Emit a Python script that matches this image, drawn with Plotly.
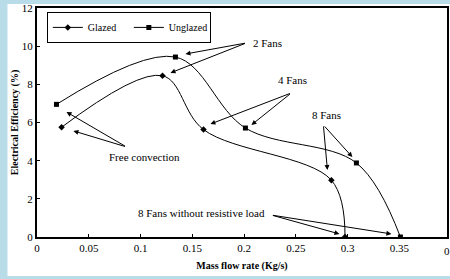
import plotly.graph_objects as go

# ---- data ----
glazed_x = [0.0237, 0.1212, 0.1608, 0.2843, 0.2975]
glazed_y = [5.75, 8.45, 5.63, 2.98, 0.0]
unglazed_x = [0.0188, 0.1337, 0.2013, 0.3085, 0.3510]
unglazed_y = [6.95, 9.43, 5.71, 3.88, 0.0]

x_ticks = [0, 0.05, 0.1, 0.15, 0.2, 0.25, 0.3, 0.35]
x_tick_text = ["0", "0.05", "0.1", "0.15", "0.2", "0.25", "0.3", "0.35"]
y_ticks = [0, 2, 4, 6, 8, 10, 12]
X_MAX = 0.396
Y_MAX = 12

# labels: (text, text_x, text_y, tail_x, tail_y, [tips])
labels = [
    ("2 Fans", 0.2226, 10.17, 0.2023, 10.17, [(0.1434, 9.59), (0.1289, 8.60)]),
    ("4 Fans", 0.2467, 8.23, 0.2457, 7.55, [(0.2071, 5.87), (0.1675, 5.92)]),
    ("8 Fans", 0.2795, 6.39, 0.2766, 5.87, [(0.3046, 4.19), (0.2805, 3.51)]),
    ("Free convection", 0.1038, 4.19, 0.0864, 4.72, [(0.0285, 6.55), (0.0352, 5.56)]),
    ("8 Fans without resistive load", 0.1588, 1.26, 0.2264, 1.15, [(0.2921, 0.16), (0.3423, 0.16)]),
]

FONT = "Liberation Serif, Times New Roman, serif"

fig = go.Figure()
fig.add_trace(go.Scatter(
    x=glazed_x, y=glazed_y, name="Glazed", mode="lines+markers",
    line=dict(color="black", width=1, shape="spline", smoothing=1.0),
    marker=dict(symbol="diamond", size=5, color="black"),
))
fig.add_trace(go.Scatter(
    x=unglazed_x, y=unglazed_y, name="Unglazed", mode="lines+markers",
    line=dict(color="black", width=1, shape="spline", smoothing=1.0),
    marker=dict(symbol="square", size=5, color="black"),
))

annotations = []
for text, tx, ty, ax, ay, tips in labels:
    annotations.append(dict(x=tx, y=ty, xref="x", yref="y", text=text, showarrow=False,
                            font=dict(family=FONT, size=11, color="black")))
    for (px, py) in tips:
        annotations.append(dict(x=px, y=py, xref="x", yref="y", ax=ax, ay=ay,
                                axref="x", ayref="y", text="", showarrow=True,
                                arrowhead=2, arrowsize=1, arrowwidth=1,
                                arrowcolor="black", standoff=0))
# clipped last tick label at right edge
annotations.append(dict(x=0.4 / X_MAX, y=0, xref="paper", yref="paper", text="0.4",
                        showarrow=False, xanchor="center", yanchor="top", yshift=-6,
                        font=dict(family=FONT, size=11, color="black")))

fig.update_layout(
    width=450, height=279,
    margin=dict(l=37, r=3, t=8, b=42, autoexpand=False),
    paper_bgcolor="#b8dde8",
    plot_bgcolor="white",
    font=dict(family=FONT, size=11, color="black"),
    showlegend=True,
    legend=dict(x=0.024, y=0.983, xanchor="left", yanchor="top", orientation="h",
                bordercolor="black", borderwidth=1, bgcolor="white",
                font=dict(family=FONT, size=10, color="black"),
                itemwidth=30, entrywidth=36, entrywidthmode="pixels", tracegroupgap=0),
    annotations=annotations,
    shapes=[dict(type="rect", xref="paper", yref="paper", x0=-0.072, x1=1.05,
                 y0=-0.17, y1=1.0175, fillcolor="white", line=dict(width=0),
                 layer="below")],
)
fig.update_xaxes(range=[0, X_MAX], tickvals=x_ticks, ticktext=x_tick_text,
                 automargin=False,
                 showgrid=False, zeroline=False, showline=True, linecolor="black",
                 linewidth=2, mirror=True, ticks="inside", ticklen=3, tickcolor="black",
                 tickfont=dict(family=FONT, size=11, color="black"),
                 title=dict(text="<b>Mass flow rate (Kg/s)</b>", standoff=9,
                            font=dict(family=FONT, size=10, color="black")))
fig.update_yaxes(range=[0, Y_MAX], tickvals=y_ticks,
                 automargin=False,
                 showgrid=False, zeroline=False, showline=True, linecolor="black",
                 linewidth=2, mirror=True, ticks="inside", ticklen=3, tickcolor="black",
                 tickfont=dict(family=FONT, size=11, color="black"),
                 title=dict(text="<b>Electrical Efficiency (%)</b>", standoff=1,
                            font=dict(family=FONT, size=10, color="black")))

fig.write_html("out.html", config={"displayModeBar": False},
               post_script="document.body.style.margin='0';document.body.style.overflow='hidden';")
